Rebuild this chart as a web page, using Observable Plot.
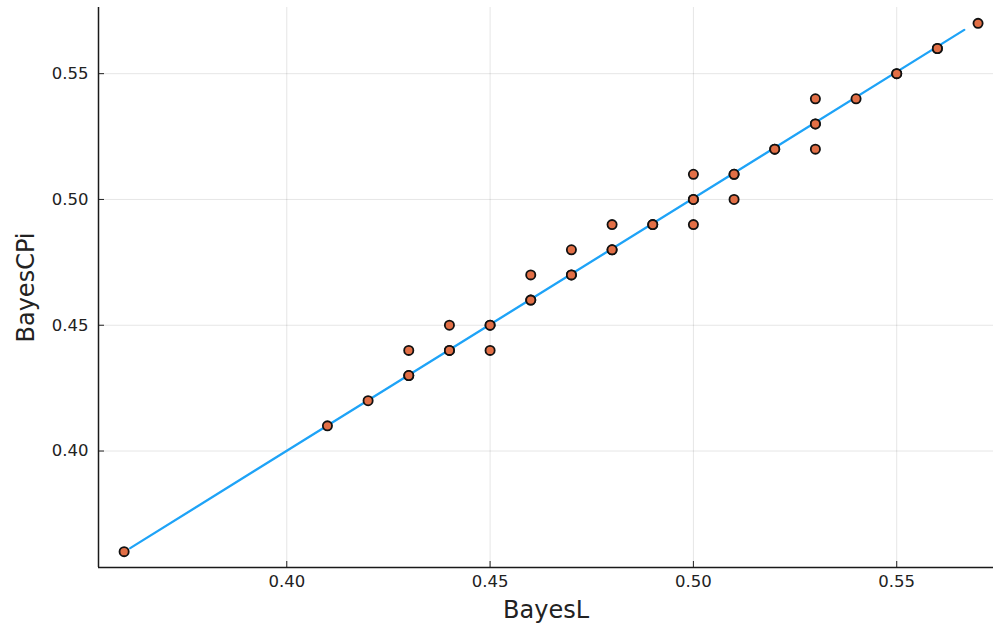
<!DOCTYPE html>
<html>
<head>
<meta charset="utf-8">
<script src="https://cdn.jsdelivr.net/npm/d3@7"></script>
<script src="https://cdn.jsdelivr.net/npm/@observablehq/plot@0.6"></script>
<style>
  html, body { margin: 0; padding: 0; background: #fff; }
  #chart { width: 994px; height: 630px; }
</style>
</head>
<body>
<div id="chart"></div>
<script>
// BayesL vs BayesCPi (repeated pairs are listed once per occurrence)
const bayesL = [
  0.36, 0.41, 0.42,
  0.43, 0.43, 0.43,
  0.44, 0.44, 0.44,
  0.45, 0.45, 0.45,
  0.46, 0.46, 0.46,
  0.47, 0.47, 0.47,
  0.48, 0.48, 0.48,
  0.49, 0.49,
  0.50, 0.50, 0.50, 0.50,
  0.51, 0.51, 0.51,
  0.52, 0.52,
  0.53, 0.53, 0.53, 0.53,
  0.54,
  0.55, 0.55,
  0.56, 0.56,
  0.57
];
const bayesCPi = [
  0.36, 0.41, 0.42,
  0.43, 0.43, 0.44,
  0.44, 0.44, 0.45,
  0.45, 0.45, 0.44,
  0.46, 0.46, 0.47,
  0.47, 0.47, 0.48,
  0.48, 0.48, 0.49,
  0.49, 0.49,
  0.50, 0.50, 0.51, 0.49,
  0.51, 0.51, 0.50,
  0.52, 0.52,
  0.53, 0.53, 0.54, 0.52,
  0.54,
  0.55, 0.55,
  0.56, 0.56,
  0.57
];

// fitted line endpoints
const fitX = [0.3615, 0.5666];
const fitY = [0.3614, 0.5674];

// axis ticks
const xTicks = [0.40, 0.45, 0.50, 0.55];
const yTicks = [0.40, 0.45, 0.50, 0.55];

const xDomain = [0.3537, 0.5738];
const yDomain = [0.3537, 0.5763];

const points = bayesL.map((x, i) => ({x, y: bayesCPi[i]}));
const fit = fitX.map((x, i) => ({x, y: fitY[i]}));

const fmt = d3.format(".2f");

const chart = Plot.plot({
  width: 994,
  height: 630,
  marginLeft: 98,
  marginRight: 1,
  marginTop: 7,
  marginBottom: 63,
  style: {fontFamily: "'DejaVu Sans', sans-serif", color: "#222", background: "#fff"},
  x: {domain: xDomain},
  y: {domain: yDomain},
  marks: [
    Plot.gridX(xTicks, {stroke: "#000", strokeOpacity: 0.1, strokeWidth: 1}),
    Plot.gridY(yTicks, {stroke: "#000", strokeOpacity: 0.1, strokeWidth: 1}),
    Plot.axisX(xTicks, {tickSize: -6, tickPadding: 14, tickFormat: fmt, fontSize: 16.5, label: null, stroke: "#222", fill: "#222"}),
    Plot.axisY(yTicks, {tickSize: -6, tickPadding: 16, tickFormat: fmt, fontSize: 16.5, label: null, stroke: "#222", fill: "#222"}),
    Plot.ruleX([xDomain[0]], {stroke: "#1a1a1a", strokeWidth: 1.5}),
    Plot.ruleY([yDomain[0]], {stroke: "#1a1a1a", strokeWidth: 1.5}),
    Plot.line(fit, {x: "x", y: "y", stroke: "#1ea3f7", strokeWidth: 2.3}),
    Plot.dot(points, {x: "x", y: "y", r: 4.6, fill: "#e26f46", stroke: "#111", strokeWidth: 1.8}),
    Plot.text(["BayesL"], {frameAnchor: "bottom", dy: 50, text: d => d, fontSize: 24, fill: "#222"}),
    Plot.text(["BayesCPi"], {frameAnchor: "left", textAnchor: "middle", dx: -72, rotate: -90, text: d => d, fontSize: 24, fill: "#222"})
  ]
});

document.getElementById("chart").appendChild(chart);
</script>
</body>
</html>
